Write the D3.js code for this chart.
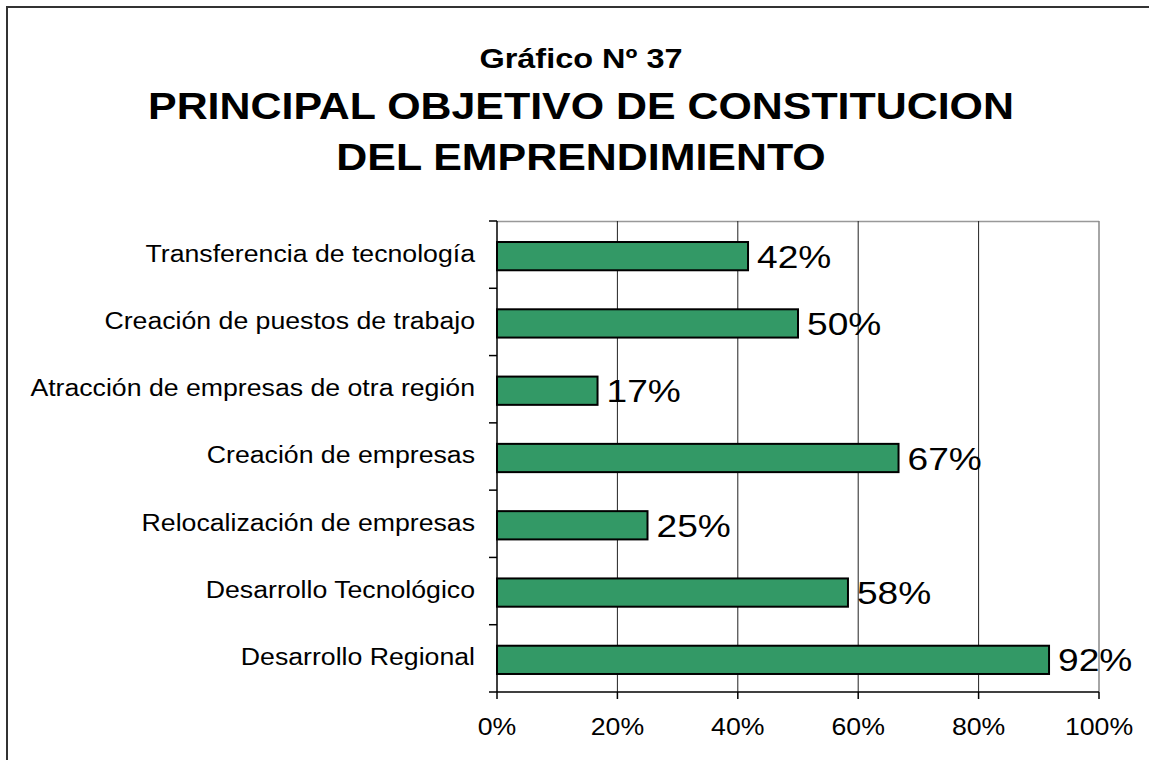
<!DOCTYPE html>
<html>
<head>
<meta charset="utf-8">
<script src="https://cdn.jsdelivr.net/npm/d3@7"></script>
<style>
  body { margin: 0; background: #fff; }
  svg text { font-family: "Liberation Sans", Arial, sans-serif; fill: #000; }
</style>
</head>
<body>
<svg width="1149" height="760"></svg>
<script>
// categorias de arriba hacia abajo
var categorias = [
  "Transferencia de tecnología",
  "Creación de puestos de trabajo",
  "Atracción de empresas de otra región",
  "Creación de empresas",
  "Relocalización de empresas",
  "Desarrollo Tecnológico",
  "Desarrollo Regional"
];
var valores = [41.7, 50, 16.7, 66.7, 25, 58.3, 91.7];
var etiquetas = ["42%", "50%", "17%", "67%", "25%", "58%", "92%"];
var ticksX = [0, 20, 40, 60, 80, 100];

var svg = d3.select("svg"),
    width = +svg.attr("width"),
    height = +svg.attr("height");

var plot = {left: 497, right: 1099, top: 221, bottom: 692};
var estirar = 1.16; // el texto del original sale ensanchado

function pos(px, py) {
    return "translate(" + px + "," + py + ") scale(" + estirar + ",1)";
}

// marco exterior (se corta a la derecha y abajo)
svg.append("rect")
    .attr("x", 7).attr("y", 7)
    .attr("width", width + 20).attr("height", height + 20)
    .attr("fill", "none")
    .attr("stroke", "#333")
    .attr("stroke-width", 2);

// titulos
svg.append("text")
    .attr("transform", pos(581, 68))
    .attr("text-anchor", "middle")
    .style("font-size", "28px").style("font-weight", "bold")
    .text("Gráfico Nº 37");
svg.append("text")
    .attr("transform", pos(581, 119))
    .attr("text-anchor", "middle")
    .style("font-size", "37px").style("font-weight", "bold")
    .text("PRINCIPAL OBJETIVO DE CONSTITUCION");
svg.append("text")
    .attr("transform", pos(581, 170))
    .attr("text-anchor", "middle")
    .style("font-size", "37px").style("font-weight", "bold")
    .text("DEL EMPRENDIMIENTO");

var x = d3.scaleLinear().domain([0, 100]).range([plot.left, plot.right]);
var y = d3.scaleBand()
    .domain(categorias)
    .range([plot.top, plot.bottom])
    .paddingInner(0.58)
    .paddingOuter(0.29);

var step = y.step();

// borde superior del area de trazado
svg.append("line")
    .attr("x1", plot.left).attr("x2", plot.right)
    .attr("y1", plot.top + 0.5).attr("y2", plot.top + 0.5)
    .attr("stroke", "#999").attr("stroke-width", 1.5);

// lineas de division
svg.append("g")
    .selectAll("line")
    .data(ticksX.slice(1))
    .enter().append("line")
    .attr("x1", d => x(d)).attr("x2", d => x(d))
    .attr("y1", plot.top).attr("y2", plot.bottom)
    .attr("stroke", d => d == 100 ? "#888" : "#222")
    .attr("stroke-width", d => d == 100 ? 1.5 : 1);

// barras
svg.append("g")
    .selectAll("rect")
    .data(valores)
    .enter().append("rect")
    .attr("x", x(0))
    .attr("y", (d, i) => y(categorias[i]) + 1.5)
    .attr("width", d => x(d) - x(0))
    .attr("height", y.bandwidth())
    .attr("fill", "#339966")
    .attr("stroke", "#000")
    .attr("stroke-width", 2);

// etiquetas de valor
svg.append("g")
    .selectAll("text")
    .data(valores)
    .enter().append("text")
    .attr("transform", (d, i) => pos(x(d) + 9, y(categorias[i]) + 1.5 + y.bandwidth() / 2))
    .attr("dy", "0.36em")
    .style("font-size", "32px")
    .text((d, i) => etiquetas[i]);

// eje y
svg.append("line")
    .attr("x1", plot.left).attr("x2", plot.left)
    .attr("y1", plot.top).attr("y2", plot.bottom)
    .attr("stroke", "#000").attr("stroke-width", 1.5);
svg.append("g")
    .selectAll("line")
    .data(d3.range(categorias.length + 1))
    .enter().append("line")
    .attr("x1", plot.left - 8).attr("x2", plot.left)
    .attr("y1", i => plot.top + i * step).attr("y2", i => plot.top + i * step)
    .attr("stroke", "#000").attr("stroke-width", 1.5);
svg.append("g")
    .selectAll("text")
    .data(categorias)
    .enter().append("text")
    .attr("transform", d => pos(475, y(d) + y.bandwidth() / 2))
    .attr("dy", "0.3em")
    .attr("text-anchor", "end")
    .style("font-size", "23px")
    .text(d => d);

// eje x
svg.append("line")
    .attr("x1", plot.left).attr("x2", plot.right)
    .attr("y1", plot.bottom).attr("y2", plot.bottom)
    .attr("stroke", "#000").attr("stroke-width", 1.5);
svg.append("g")
    .selectAll("line")
    .data(ticksX)
    .enter().append("line")
    .attr("x1", d => x(d)).attr("x2", d => x(d))
    .attr("y1", plot.bottom).attr("y2", plot.bottom + 7)
    .attr("stroke", "#000").attr("stroke-width", 1.5);
svg.append("g")
    .selectAll("text")
    .data(ticksX)
    .enter().append("text")
    .attr("transform", d => pos(x(d), 735))
    .attr("text-anchor", "middle")
    .style("font-size", "23px")
    .text(d => d + "%");
</script>
</body>
</html>
